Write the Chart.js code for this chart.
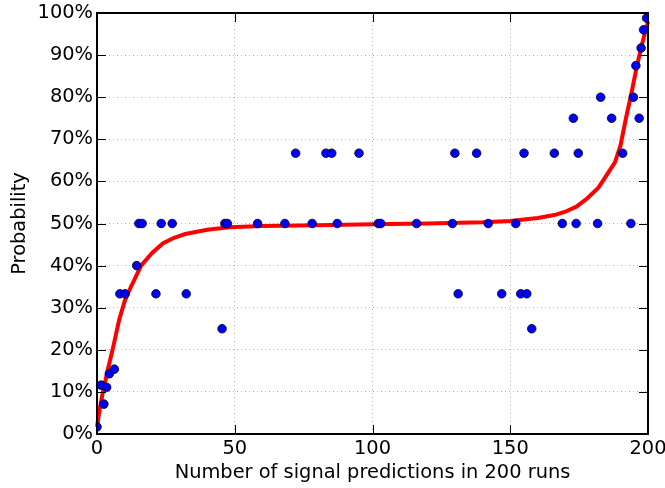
<!DOCTYPE html>
<html>
<head>
<meta charset="utf-8">
<script src="https://cdn.jsdelivr.net/npm/chart.js@4/dist/chart.umd.min.js"></script>
<style>
  html, body { margin: 0; padding: 0; background: #fff; }
  #wrap { width: 665px; height: 488px; }
</style>
</head>
<body>
<div id="wrap"><canvas id="probChart" width="665" height="488"></canvas></div>
<script>
// observed runs: x = number of signal predictions, y = probability (%)
const obsX = [
  0, 1.5, 2.5, 3.5, 4.5, 6.3, 8.3, 10.2, 14.4, 15.2, 16.4, 21.4, 23.3, 27.3, 32.4,
  45.4, 46.4, 47.3, 58.3, 68.2, 72.1, 78.1, 83.1, 85.2, 87.2, 95.1, 102.1, 103,
  116, 129, 129.9, 131.1, 137.8, 142, 146.9, 152, 153.8, 155, 156, 157.8, 166,
  168.9, 172.9, 173.9, 174.7, 181.7, 182.8, 186.8, 190.8, 193.8, 194.7, 195.6,
  196.8, 197.5, 198.4, 199.5
];
const obsY = [
  1.7, 11.6, 7.1, 11.1, 14.3, 15.4, 33.3, 33.3, 40, 50, 50, 33.3, 50, 50, 33.3,
  25, 50, 50, 50, 50, 66.7, 50, 66.7, 66.7, 50, 66.7, 50, 50,
  50, 50, 66.7, 33.3, 66.7, 50, 33.3, 50, 33.3, 66.7, 33.3, 25, 66.7,
  50, 75, 50, 66.7, 50, 80, 75, 66.7, 50, 80, 87.5,
  75, 91.7, 96, 98.8
];

// fitted curve
const fitX = [0, 1, 2, 3, 4, 6, 8, 10, 12, 16, 20, 24, 28, 32, 40, 48, 60, 80, 100,
  120, 140, 150, 160, 166, 170, 174, 178, 182, 186, 188, 190, 192, 194, 196, 198, 200];
const fitY = [1.7, 6, 9.5, 12.5, 15.5, 21, 27, 31.5, 34.5, 40, 43, 45.3, 46.6, 47.5, 48.5, 49.1, 49.4, 49.6, 49.8,
  50, 50.3, 50.6, 51.3, 52, 52.8, 54, 56, 58.5, 62.5, 64.5, 68.5, 75, 81, 87.5, 93, 98];

const xTicks = [0, 50, 100, 150, 200];
const yTicks = [0, 10, 20, 30, 40, 50, 60, 70, 80, 90, 100];

const FONT = "'DejaVu Sans', sans-serif";
const FSIZE = 19.4;

const toPts = (xs, ys) => xs.map((x, i) => ({ x: x, y: ys[i] }));

// frame + inward ticks, matplotlib classic look
const frameTicks = {
  id: "frame-ticks",
  afterDraw: (chart) => {
    const ctx = chart.ctx;
    const a = chart.chartArea;
    const sx = chart.scales.x;
    const sy = chart.scales.y;
    const len = 9;
    ctx.save();
    ctx.strokeStyle = "#000";
    ctx.lineWidth = 1;
    ctx.beginPath();
    xTicks.forEach((v) => {
      const px = Math.round(sx.getPixelForValue(v)) + 0.5;
      ctx.moveTo(px, a.bottom);
      ctx.lineTo(px, a.bottom - len);
      ctx.moveTo(px, a.top);
      ctx.lineTo(px, a.top + len);
    });
    yTicks.forEach((v) => {
      const py = Math.round(sy.getPixelForValue(v)) + 0.5;
      ctx.moveTo(a.left, py);
      ctx.lineTo(a.left + len, py);
      ctx.moveTo(a.right, py);
      ctx.lineTo(a.right - len, py);
    });
    ctx.stroke();
    ctx.lineWidth = 2;
    ctx.strokeRect(a.left, a.top, a.right - a.left, a.bottom - a.top);
    ctx.restore();
  },
};

const ctx = document.getElementById("probChart").getContext("2d");

let probChart = new Chart(ctx, {
  type: "scatter",
  data: {
    datasets: [
      {
        label: "fit",
        type: "line",
        data: toPts(fitX, fitY),
        borderColor: "#ff0000",
        borderWidth: 4,
        pointRadius: 0,
        fill: false,
        tension: 0,
        order: 2,
        clip: 2,
      },
      {
        label: "runs",
        data: toPts(obsX, obsY),
        backgroundColor: "#0000ff",
        borderColor: "#000",
        borderWidth: 0.8,
        pointRadius: 4.3,
        order: 1,
        clip: 0,
      },
    ],
  },
  options: {
    responsive: false,
    animation: false,
    layout: {
      padding: { top: 13, right: 17, left: 0, bottom: 0 },
    },
    scales: {
      x: {
        type: "linear",
        min: 0,
        max: 200,
        afterFit: (scale) => {
          scale.height = 54;
          scale.paddingLeft = 0;
          scale.paddingRight = 0;
        },
        afterBuildTicks: (scale) => {
          scale.ticks = xTicks.map((v) => ({ value: v }));
        },
        grid: {
          color: "#b8b8b8",
          lineWidth: 1,
          drawTicks: false,
        },
        border: { display: false, dash: [1, 3] },
        ticks: {
          color: "#000",
          padding: 3,
          autoSkip: false,
          maxRotation: 0,
          font: { family: FONT, size: FSIZE },
        },
        title: {
          display: true,
          text: "Number of signal predictions in 200 runs",
          color: "#000",
          padding: { top: 0, bottom: 3 },
          font: { family: FONT, size: FSIZE },
        },
      },
      y: {
        min: 0,
        max: 100,
        afterFit: (scale) => {
          scale.width = 97;
          scale.paddingTop = 0;
          scale.paddingBottom = 0;
        },
        afterBuildTicks: (scale) => {
          scale.ticks = yTicks.map((v) => ({ value: v }));
        },
        grid: {
          color: "#b8b8b8",
          lineWidth: 1,
          drawTicks: false,
        },
        border: { display: false, dash: [1, 3] },
        ticks: {
          color: "#000",
          padding: 4,
          callback: (v) => v + "%",
          font: { family: FONT, size: FSIZE },
        },
        title: {
          display: true,
          text: "Probability",
          color: "#000",
          padding: { top: 8, bottom: 0 },
          font: { family: FONT, size: FSIZE },
        },
      },
    },
    plugins: {
      legend: { display: false },
      tooltip: { enabled: false },
    },
  },
  plugins: [frameTicks],
});
</script>
</body>
</html>
